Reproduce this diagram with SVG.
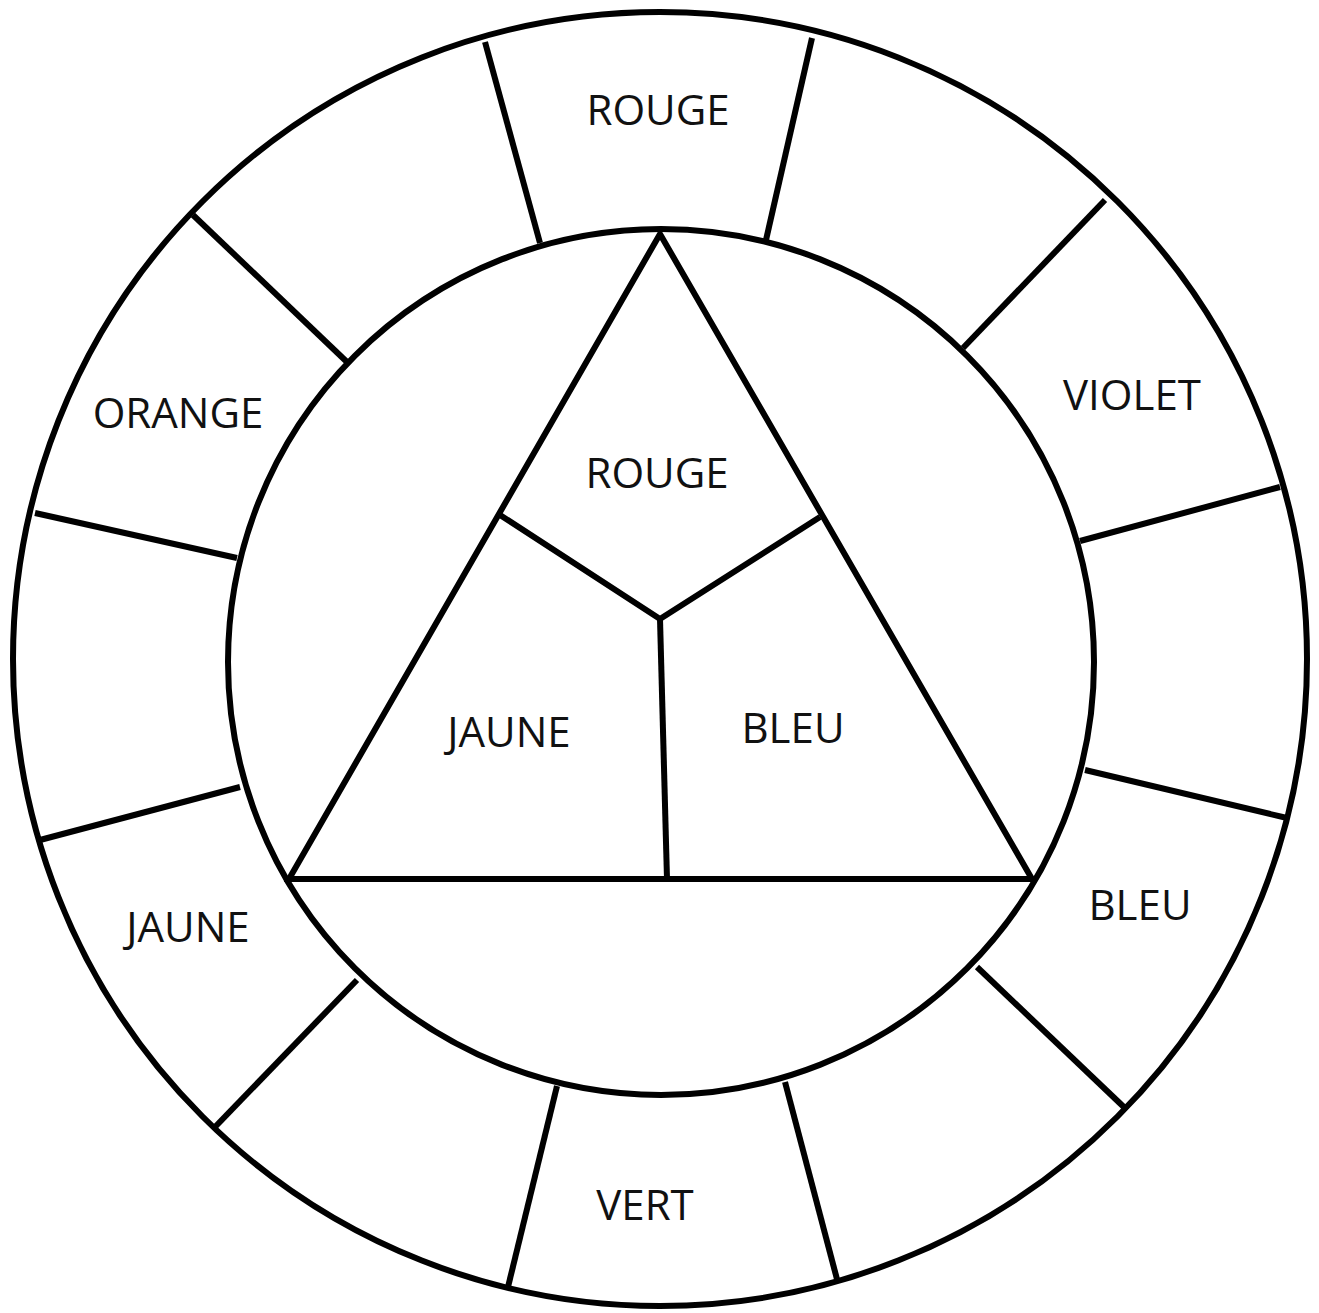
<svg xmlns="http://www.w3.org/2000/svg" width="1319" height="1313" viewBox="0 0 1319 1313">
<style>
.l{fill:none;stroke:#000;stroke-width:6;stroke-linecap:butt;stroke-linejoin:miter}
.t{font-family:"Open Sans","Liberation Sans",sans-serif;font-size:42px;fill:#111;text-anchor:middle}
</style>
<rect width="1319" height="1313" fill="#fff"/>
<g id="rings">
<circle class="l" cx="660" cy="659" r="647"/>
<circle class="l" cx="661" cy="662" r="433"/>
</g>
<g id="connectors">
<line class="l" x1="485" y1="42" x2="540" y2="243"/>
<line class="l" x1="812" y1="38" x2="766" y2="240"/>
<line class="l" x1="1105" y1="200" x2="963" y2="348"/>
<line class="l" x1="1280" y1="487" x2="1080" y2="541"/>
<line class="l" x1="1287" y1="818" x2="1085" y2="770"/>
<line class="l" x1="1127" y1="1110" x2="977" y2="967"/>
<line class="l" x1="838" y1="1283" x2="785" y2="1082"/>
<line class="l" x1="508" y1="1287" x2="557" y2="1086"/>
<line class="l" x1="215" y1="1127" x2="357" y2="980"/>
<line class="l" x1="40" y1="840" x2="240" y2="787"/>
<line class="l" x1="35" y1="513" x2="237" y2="558"/>
<line class="l" x1="193" y1="215" x2="347" y2="362"/>
</g>
<g id="triangle">
<polygon class="l" points="660,234 1032,879 289,879"/>
<polyline class="l" points="500,515 660,619 820,517"/>
<line class="l" x1="660" y1="619" x2="667" y2="879"/>
</g>
<g id="labels">
<text class="t" x="658" y="125">ROUGE</text>
<text class="t" x="1132" y="410">VIOLET</text>
<text class="t" x="178" y="428">ORANGE</text>
<text class="t" x="188" y="942">JAUNE</text>
<text class="t" x="1140" y="920">BLEU</text>
<text class="t" x="645" y="1220">VERT</text>
<text class="t" x="657" y="488">ROUGE</text>
<text class="t" x="509" y="747">JAUNE</text>
<text class="t" x="793" y="743">BLEU</text>
</g>
</svg>
